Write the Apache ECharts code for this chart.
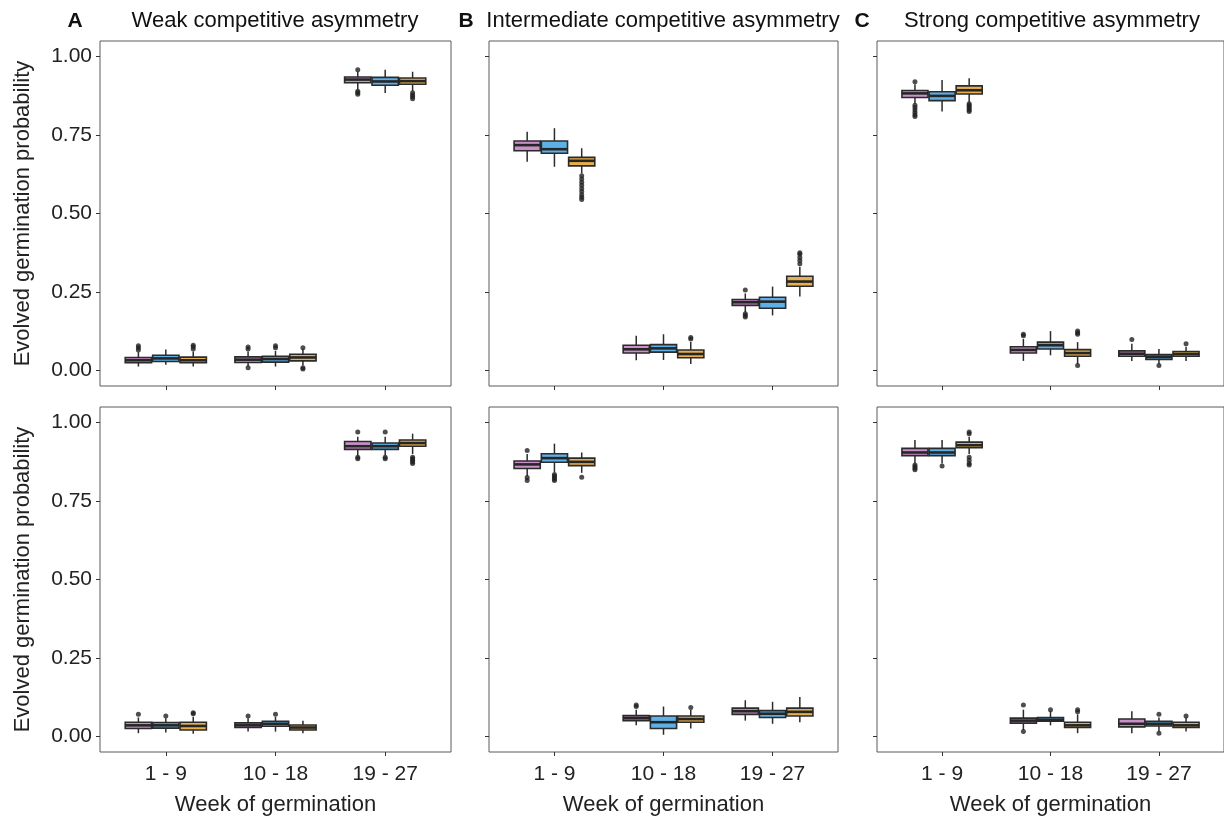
<!DOCTYPE html>
<html>
<head>
<meta charset="utf-8">
<script src="https://cdn.jsdelivr.net/npm/echarts@6/dist/echarts.min.js"></script>
<style>
html,body{margin:0;padding:0;background:#fff;}
#main{width:1224px;height:817px;}
</style>
</head>
<body>
<div id="main"></div>
<script>
var categories = ['1 - 9', '10 - 18', '19 - 27'];
var groups = ['Group 1', 'Group 2', 'Group 3'];
var groupColors = ['#cc8fcc', '#5eb0e8', '#e8b04d'];
var panelLetters = ['A', 'B', 'C'];
var panelTitles = ['Weak competitive asymmetry', 'Intermediate competitive asymmetry', 'Strong competitive asymmetry'];
var yTicks = [0, 0.25, 0.5, 0.75, 1];

// [lower whisker, q1, median, q3, upper whisker]; one row per group, one entry per category
var boxA1 = [
  [[0.012, 0.024, 0.032, 0.041, 0.058], [0.013, 0.025, 0.034, 0.043, 0.060], [0.895, 0.917, 0.927, 0.935, 0.952]],
  [[0.018, 0.028, 0.038, 0.048, 0.066], [0.012, 0.026, 0.036, 0.045, 0.062], [0.884, 0.909, 0.921, 0.934, 0.958]],
  [[0.012, 0.024, 0.032, 0.042, 0.060], [0.015, 0.030, 0.041, 0.051, 0.068], [0.890, 0.912, 0.922, 0.932, 0.952]]
];
var boxB1 = [
  [[0.665, 0.700, 0.718, 0.731, 0.761], [0.032, 0.055, 0.067, 0.080, 0.110], [0.185, 0.207, 0.217, 0.226, 0.245]],
  [[0.649, 0.692, 0.705, 0.731, 0.772], [0.033, 0.058, 0.070, 0.082, 0.115], [0.175, 0.198, 0.219, 0.233, 0.267]],
  [[0.628, 0.652, 0.668, 0.679, 0.708], [0.020, 0.040, 0.052, 0.065, 0.090], [0.235, 0.268, 0.283, 0.300, 0.330]]
];
var boxC1 = [
  [[0.850, 0.870, 0.883, 0.892, 0.912], [0.030, 0.055, 0.065, 0.075, 0.100], [0.030, 0.045, 0.053, 0.062, 0.085]],
  [[0.825, 0.860, 0.875, 0.888, 0.926], [0.048, 0.068, 0.080, 0.090, 0.125], [0.020, 0.035, 0.043, 0.050, 0.068]],
  [[0.855, 0.881, 0.893, 0.907, 0.931], [0.020, 0.045, 0.055, 0.066, 0.090], [0.030, 0.045, 0.052, 0.060, 0.075]]
];
var boxA2 = [
  [[0.010, 0.025, 0.035, 0.045, 0.060], [0.015, 0.028, 0.035, 0.043, 0.058], [0.895, 0.915, 0.925, 0.940, 0.955]],
  [[0.012, 0.026, 0.035, 0.044, 0.058], [0.015, 0.032, 0.040, 0.048, 0.062], [0.895, 0.915, 0.925, 0.935, 0.955]],
  [[0.008, 0.020, 0.033, 0.045, 0.062], [0.010, 0.020, 0.028, 0.036, 0.050], [0.900, 0.925, 0.935, 0.945, 0.965]]
];
var boxB2 = [
  [[0.830, 0.854, 0.867, 0.878, 0.900], [0.035, 0.050, 0.058, 0.066, 0.085], [0.050, 0.070, 0.080, 0.090, 0.115]],
  [[0.842, 0.874, 0.887, 0.901, 0.933], [0.005, 0.025, 0.045, 0.065, 0.095], [0.040, 0.060, 0.072, 0.082, 0.110]],
  [[0.840, 0.863, 0.875, 0.887, 0.905], [0.025, 0.045, 0.055, 0.065, 0.085], [0.045, 0.065, 0.078, 0.090, 0.125]]
];
var boxC2 = [
  [[0.870, 0.895, 0.905, 0.918, 0.945], [0.020, 0.042, 0.050, 0.058, 0.085], [0.010, 0.030, 0.040, 0.055, 0.080]],
  [[0.870, 0.895, 0.905, 0.918, 0.945], [0.035, 0.048, 0.053, 0.060, 0.080], [0.015, 0.033, 0.040, 0.048, 0.060]],
  [[0.900, 0.920, 0.928, 0.938, 0.955], [0.010, 0.028, 0.035, 0.045, 0.070], [0.015, 0.028, 0.035, 0.045, 0.060]]
];

// outliers: [group, category, value]
var outA1 = [
  [0, 0, 0.065], [0, 0, 0.072], [0, 0, 0.078], [0, 1, 0.068], [0, 1, 0.074], [0, 1, 0.008],
  [0, 2, 0.958], [0, 2, 0.890], [0, 2, 0.885], [0, 2, 0.880],
  [1, 1, 0.072], [1, 1, 0.078],
  [2, 0, 0.068], [2, 0, 0.075], [2, 0, 0.080], [2, 1, 0.072], [2, 1, 0.008], [2, 1, 0.004],
  [2, 2, 0.885], [2, 2, 0.878], [2, 2, 0.872], [2, 2, 0.866]
];
var outB1 = [
  [0, 2, 0.256], [0, 2, 0.180], [0, 2, 0.175], [0, 2, 0.170],
  [2, 0, 0.620], [2, 0, 0.610], [2, 0, 0.600], [2, 0, 0.590], [2, 0, 0.580], [2, 0, 0.570],
  [2, 0, 0.560], [2, 0, 0.552], [2, 0, 0.545],
  [2, 1, 0.100], [2, 1, 0.105],
  [2, 2, 0.340], [2, 2, 0.350], [2, 2, 0.360], [2, 2, 0.370], [2, 2, 0.375]
];
var outC1 = [
  [0, 0, 0.920], [0, 0, 0.845], [0, 0, 0.838], [0, 0, 0.830], [0, 0, 0.822], [0, 0, 0.815], [0, 0, 0.809],
  [0, 1, 0.110], [0, 1, 0.115], [0, 2, 0.098],
  [1, 2, 0.015],
  [2, 0, 0.850], [2, 0, 0.845], [2, 0, 0.840], [2, 0, 0.835], [2, 0, 0.830], [2, 0, 0.825],
  [2, 1, 0.115], [2, 1, 0.120], [2, 1, 0.125], [2, 1, 0.015], [2, 2, 0.085]
];
var outA2 = [
  [0, 0, 0.070], [0, 1, 0.065], [0, 2, 0.970], [0, 2, 0.890], [0, 2, 0.885],
  [1, 0, 0.065], [1, 1, 0.070], [1, 2, 0.970], [1, 2, 0.890], [1, 2, 0.885],
  [2, 0, 0.072], [2, 0, 0.075],
  [2, 2, 0.890], [2, 2, 0.885], [2, 2, 0.880], [2, 2, 0.875], [2, 2, 0.870]
];
var outB2 = [
  [0, 0, 0.911], [0, 0, 0.825], [0, 0, 0.816], [0, 1, 0.095], [0, 1, 0.100],
  [1, 0, 0.835], [1, 0, 0.830], [1, 0, 0.825], [1, 0, 0.820], [1, 0, 0.816],
  [2, 0, 0.826], [2, 1, 0.092]
];
var outC2 = [
  [0, 0, 0.865], [0, 0, 0.860], [0, 0, 0.855], [0, 0, 0.850], [0, 1, 0.100], [0, 1, 0.015],
  [1, 0, 0.862], [1, 1, 0.085], [1, 2, 0.070], [1, 2, 0.010],
  [2, 0, 0.965], [2, 0, 0.970], [2, 0, 0.890], [2, 0, 0.880], [2, 0, 0.870], [2, 0, 0.865],
  [2, 1, 0.078], [2, 1, 0.085], [2, 2, 0.065]
];

var panels = [
  {box: boxA1, out: outA1}, {box: boxB1, out: outB1}, {box: boxC1, out: outC1},
  {box: boxA2, out: outA2}, {box: boxB2, out: outB2}, {box: boxC2, out: outC2}
];

var colLeft = [100, 489, 877], colWidth = [351, 349, 351];
var rowTop = [41, 407], rowHeight = 345;
var dodge = [-0.25, 0, 0.25], boxW = 0.24;
var font = '"Liberation Sans", Arial, sans-serif';

var chart = echarts.init(document.getElementById('main'));

function renderBox(params, api) {
  var x = api.value(0);
  var lo = api.coord([x, api.value(1)]);
  var q1 = api.coord([x, api.value(2)]);
  var med = api.coord([x, api.value(3)]);
  var q3 = api.coord([x, api.value(4)]);
  var hi = api.coord([x, api.value(5)]);
  var half = api.size([boxW, 0])[0] / 2;
  return {
    type: 'group',
    children: [
      {type: 'line', shape: {x1: lo[0], y1: lo[1], x2: hi[0], y2: hi[1]}, style: {stroke: '#2b2b2b', lineWidth: 1.5}},
      {type: 'rect', shape: {x: q3[0] - half, y: q3[1], width: half * 2, height: q1[1] - q3[1]},
        style: {fill: api.visual('color'), stroke: '#2b2b2b', lineWidth: 1.6}},
      {type: 'line', shape: {x1: med[0] - half, y1: med[1], x2: med[0] + half, y2: med[1]},
        style: {stroke: '#262626', lineWidth: 2.6}}
    ]
  };
}

var grids = [], xAxes = [], yAxes = [], series = [], graphics = [];
panels.forEach(function (p, i) {
  var col = i % 3, row = Math.floor(i / 3);
  grids.push({left: colLeft[col], top: rowTop[row], width: colWidth[col], height: rowHeight,
    show: true, borderColor: '#5a5a5a', borderWidth: 1, backgroundColor: '#fff'});
  xAxes.push({
    type: 'value', gridIndex: i, min: 0.4, max: 3.6,
    axisLine: {show: false, onZero: false}, splitLine: {show: false},
    axisTick: {show: true, length: 4, lineStyle: {color: '#333'}, customValues: [1, 2, 3]},
    axisLabel: {show: row === 1, customValues: [1, 2, 3], margin: 12, fontSize: 21, color: '#222', fontFamily: font,
      formatter: function (v) { return categories[Math.round(v) - 1]; }},
    name: row === 1 ? 'Week of germination' : '', nameLocation: 'middle', nameGap: 42,
    nameTextStyle: {fontSize: 22, color: '#222', fontFamily: font}
  });
  yAxes.push({
    type: 'value', gridIndex: i, min: -0.05, max: 1.05,
    axisLine: {show: false, onZero: false}, splitLine: {show: false},
    axisTick: {show: true, length: 4, lineStyle: {color: '#333'}, customValues: yTicks},
    axisLabel: {show: col === 0, customValues: yTicks, margin: 8, fontSize: 21, color: '#222', fontFamily: font,
      formatter: function (v) { return v.toFixed(2); }},
    name: col === 0 ? 'Evolved germination probability' : '', nameLocation: 'middle', nameGap: 66, nameRotate: 90,
    nameTextStyle: {fontSize: 22, color: '#222', fontFamily: font}
  });
  p.box.forEach(function (rows, g) {
    series.push({
      type: 'custom', name: groups[g], xAxisIndex: i, yAxisIndex: i,
      itemStyle: {color: groupColors[g]},
      renderItem: renderBox,
      encode: {x: 0, y: [1, 2, 3, 4, 5]},
      data: rows.map(function (s, c) { return [c + 1 + dodge[g]].concat(s); })
    });
  });
  series.push({
    type: 'scatter', name: 'outliers', xAxisIndex: i, yAxisIndex: i,
    symbolSize: 5, itemStyle: {color: '#222'},
    data: p.out.map(function (o) { return [o[1] + 1 + dodge[o[0]], o[2]]; })
  });
});

var letterX = [75, 466, 862];
var titleX = [275, 663, 1052];
for (var c = 0; c < 3; c++) {
  graphics.push({type: 'text', x: letterX[c], y: 21,
    style: {text: panelLetters[c], font: 'bold 21px ' + font, fill: '#111', align: 'center', verticalAlign: 'middle'}});
  graphics.push({type: 'text', x: titleX[c], y: 21,
    style: {text: panelTitles[c], font: '22px ' + font, fill: '#111', align: 'center', verticalAlign: 'middle'}});
}

chart.setOption({
  animation: false,
  backgroundColor: '#fff',
  grid: grids,
  xAxis: xAxes,
  yAxis: yAxes,
  series: series,
  graphic: graphics
});
</script>
</body>
</html>
